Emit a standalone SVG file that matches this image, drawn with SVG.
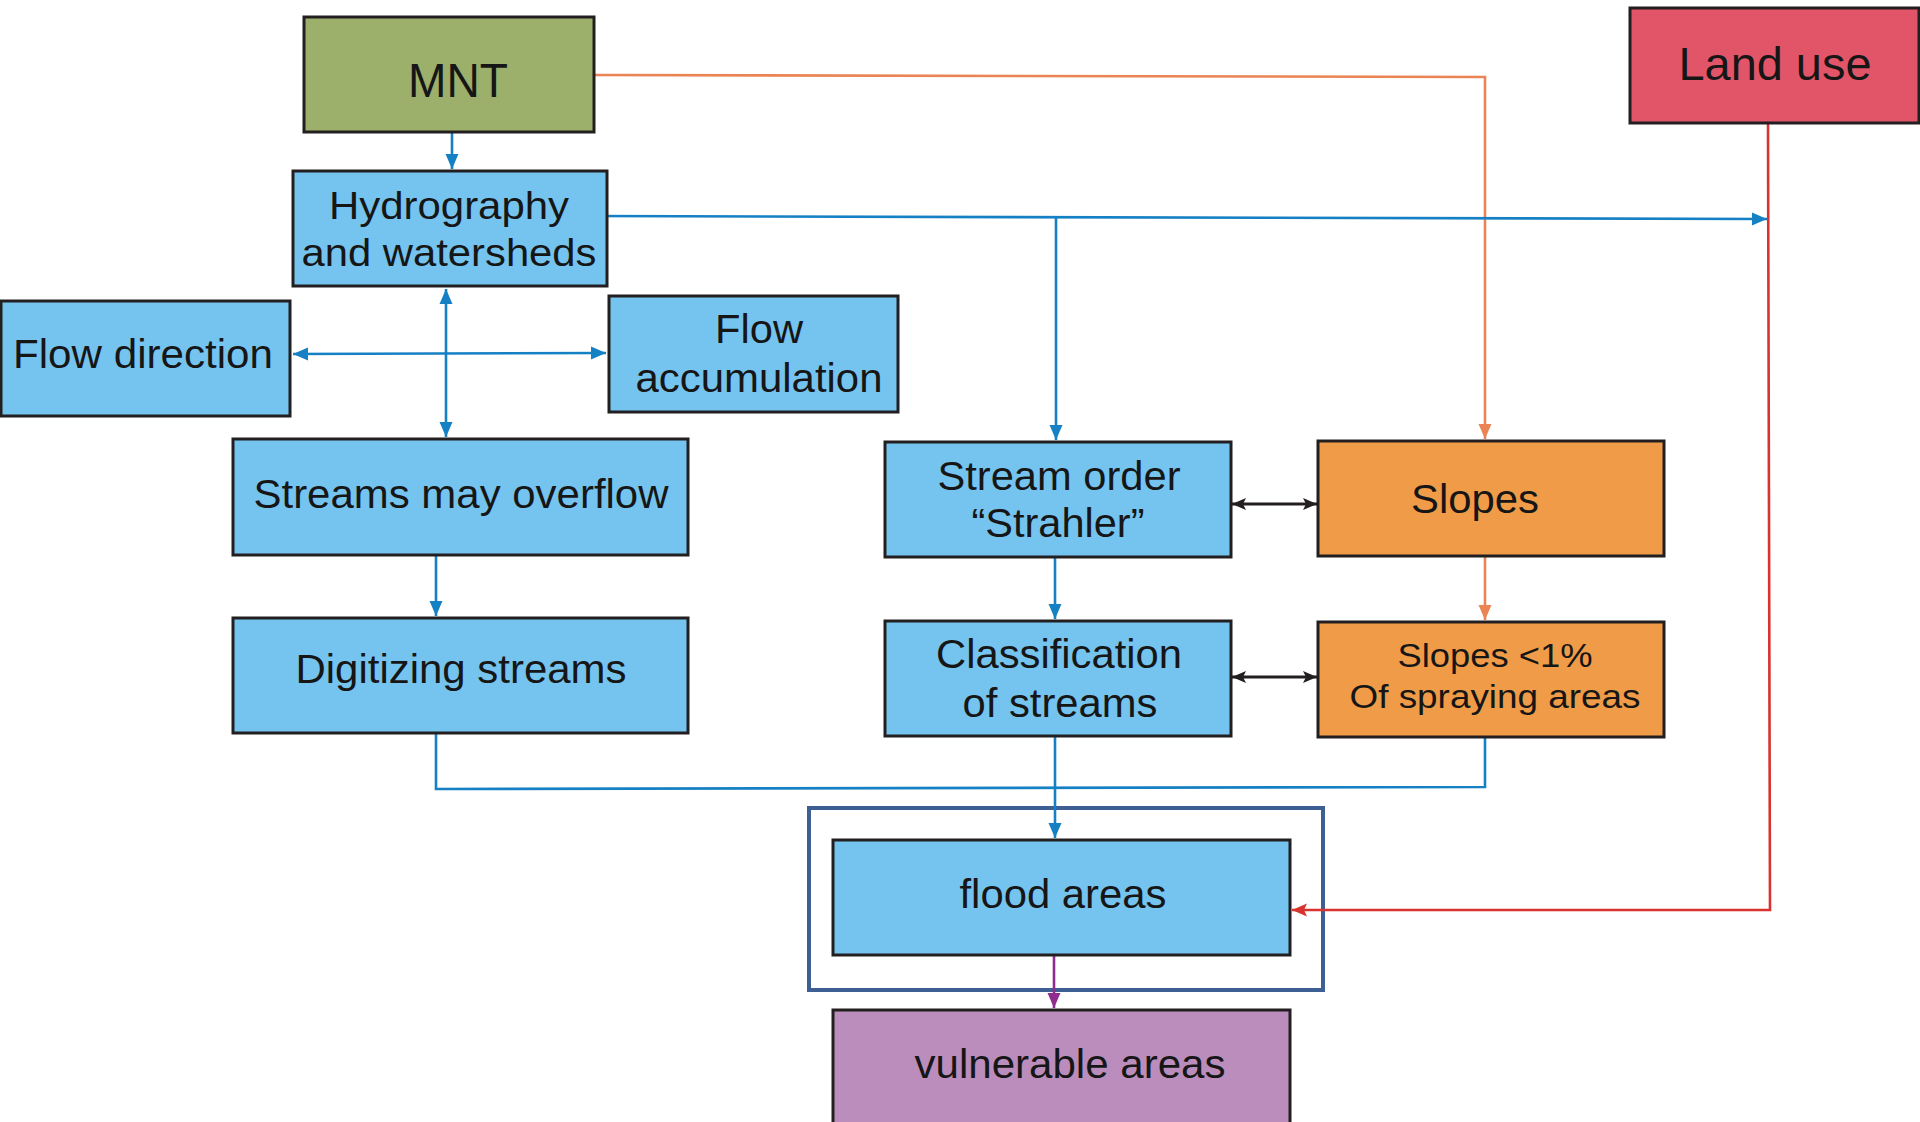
<svg xmlns="http://www.w3.org/2000/svg" width="1920" height="1122" viewBox="0 0 1920 1122">
<style>
.box{stroke:#231f20;stroke-width:3}
.blue{fill:#75c4ef}
.t{font-family:"Liberation Sans",Arial,sans-serif;fill:#161616;text-anchor:middle}
.c{fill:none;stroke-width:2.6}
.cb{stroke:#1680c4}
.co{stroke:#eb8455}
.cr{stroke:#d8332f}
.cp{stroke:#902c8e}
.ck{stroke:#231f20;stroke-width:3.2}
</style>
<defs>
<marker id="ab" markerUnits="userSpaceOnUse" markerWidth="16" markerHeight="14" refX="15" refY="7" orient="auto-start-reverse"><path d="M0,0.5 L15,7 L0,13.5 Z" fill="#1680c4"/></marker>
<marker id="ao" markerUnits="userSpaceOnUse" markerWidth="16" markerHeight="14" refX="15" refY="7" orient="auto-start-reverse"><path d="M0,0.5 L15,7 L0,13.5 Z" fill="#eb8455"/></marker>
<marker id="ar" markerUnits="userSpaceOnUse" markerWidth="16" markerHeight="14" refX="15" refY="7" orient="auto-start-reverse"><path d="M0,0.5 L15,7 L0,13.5 L3,7 Z" fill="#d8332f"/></marker>
<marker id="ap" markerUnits="userSpaceOnUse" markerWidth="16" markerHeight="14" refX="15" refY="7" orient="auto-start-reverse"><path d="M0,0.5 L15,7 L0,13.5 Z" fill="#902c8e"/></marker>
<marker id="ak" markerUnits="userSpaceOnUse" markerWidth="16" markerHeight="14" refX="14" refY="7" orient="auto-start-reverse"><path d="M0,1 L14,7 L0,13 L3,7 Z" fill="#231f20"/></marker>
</defs>
<rect width="1920" height="1122" fill="#ffffff"/>

<g id="frame">
<rect x="809" y="808" width="514" height="182" fill="none" stroke="#3d5f93" stroke-width="4"/>
</g>

<g id="connectors">
<line class="c cb" x1="452" y1="132" x2="452" y2="169" marker-end="url(#ab)"/>
<polyline class="c co" points="594,75 1485,77 1485,439" marker-end="url(#ao)"/>
<line class="c cb" x1="594" y1="216" x2="1767" y2="219" marker-end="url(#ab)"/>
<line class="c cb" x1="1056" y1="218" x2="1056" y2="440" marker-end="url(#ab)"/>
<line class="c cb" x1="446" y1="289" x2="446" y2="437" marker-start="url(#ab)" marker-end="url(#ab)"/>
<line class="c cb" x1="293" y1="354" x2="606" y2="353" marker-start="url(#ab)" marker-end="url(#ab)"/>
<line class="c cb" x1="436" y1="555" x2="436" y2="616" marker-end="url(#ab)"/>
<line class="c cb" x1="1055" y1="557" x2="1055" y2="619" marker-end="url(#ab)"/>
<line class="c co" x1="1485" y1="556" x2="1485" y2="620" marker-end="url(#ao)"/>
<line class="c ck" x1="1232" y1="504" x2="1317" y2="504" marker-start="url(#ak)" marker-end="url(#ak)"/>
<line class="c ck" x1="1232" y1="677" x2="1317" y2="677" marker-start="url(#ak)" marker-end="url(#ak)"/>
<polyline class="c cb" points="436,733 436,789 1485,787 1485,737"/>
<line class="c cb" x1="1055" y1="736" x2="1055" y2="838" marker-end="url(#ab)"/>
<polyline class="c cr" points="1768,123 1770,910 1292,910" marker-end="url(#ar)"/>
<line class="c cp" x1="1054" y1="955" x2="1054" y2="1008" marker-end="url(#ap)"/>
</g>

<g id="mnt">
<rect class="box" x="304" y="17" width="290" height="115" fill="#9caf6b"/>
<text class="t" x="458" y="97" font-size="48" textLength="100" lengthAdjust="spacingAndGlyphs">MNT</text>
</g>

<g id="land-use">
<rect class="box" x="1630" y="8" width="289" height="115" fill="#e25569"/>
<text class="t" x="1775" y="80" font-size="47" textLength="193" lengthAdjust="spacingAndGlyphs">Land use</text>
</g>

<g id="hydrography">
<rect class="box blue" x="293" y="171" width="314" height="115"/>
<text class="t" x="449" y="219" font-size="38" textLength="240" lengthAdjust="spacingAndGlyphs">Hydrography</text>
<text class="t" x="449" y="266" font-size="38" textLength="295" lengthAdjust="spacingAndGlyphs">and watersheds</text>
</g>

<g id="flow-direction">
<rect class="box blue" x="1" y="301" width="289" height="115"/>
<text class="t" x="143" y="368" font-size="40" textLength="260" lengthAdjust="spacingAndGlyphs">Flow direction</text>
</g>

<g id="flow-accumulation">
<rect class="box blue" x="609" y="296" width="289" height="116"/>
<text class="t" x="759" y="343" font-size="40" textLength="88" lengthAdjust="spacingAndGlyphs">Flow</text>
<text class="t" x="759" y="392" font-size="40" textLength="247" lengthAdjust="spacingAndGlyphs">accumulation</text>
</g>

<g id="streams-overflow">
<rect class="box blue" x="233" y="439" width="455" height="116"/>
<text class="t" x="461" y="508" font-size="40" textLength="415" lengthAdjust="spacingAndGlyphs">Streams may overflow</text>
</g>

<g id="digitizing">
<rect class="box blue" x="233" y="618" width="455" height="115"/>
<text class="t" x="461" y="683" font-size="40" textLength="331" lengthAdjust="spacingAndGlyphs">Digitizing streams</text>
</g>

<g id="stream-order">
<rect class="box blue" x="885" y="442" width="346" height="115"/>
<text class="t" x="1059" y="490" font-size="40" textLength="243" lengthAdjust="spacingAndGlyphs">Stream order</text>
<text class="t" x="1058" y="537" font-size="40" textLength="173" lengthAdjust="spacingAndGlyphs">“Strahler”</text>
</g>

<g id="slopes">
<rect class="box" x="1318" y="441" width="346" height="115" fill="#f09b48"/>
<text class="t" x="1475" y="513" font-size="40" textLength="128" lengthAdjust="spacingAndGlyphs">Slopes</text>
</g>

<g id="classification">
<rect class="box blue" x="885" y="621" width="346" height="115"/>
<text class="t" x="1059" y="668" font-size="40" textLength="246" lengthAdjust="spacingAndGlyphs">Classification</text>
<text class="t" x="1060" y="717" font-size="40" textLength="195" lengthAdjust="spacingAndGlyphs">of streams</text>
</g>

<g id="slopes-spraying">
<rect class="box" x="1318" y="622" width="346" height="115" fill="#f09b48"/>
<text class="t" x="1495" y="667" font-size="34" textLength="195" lengthAdjust="spacingAndGlyphs">Slopes &lt;1%</text>
<text class="t" x="1495" y="708" font-size="34" textLength="291" lengthAdjust="spacingAndGlyphs">Of spraying areas</text>
</g>

<g id="flood-areas">
<rect class="box blue" x="833" y="840" width="457" height="115"/>
<text class="t" x="1063" y="908" font-size="40" textLength="207" lengthAdjust="spacingAndGlyphs">flood areas</text>
</g>

<g id="vulnerable-areas">
<rect class="box" x="833" y="1010" width="457" height="120" fill="#bb8dbd"/>
<text class="t" x="1070" y="1078" font-size="40" textLength="311" lengthAdjust="spacingAndGlyphs">vulnerable areas</text>
</g>
</svg>
